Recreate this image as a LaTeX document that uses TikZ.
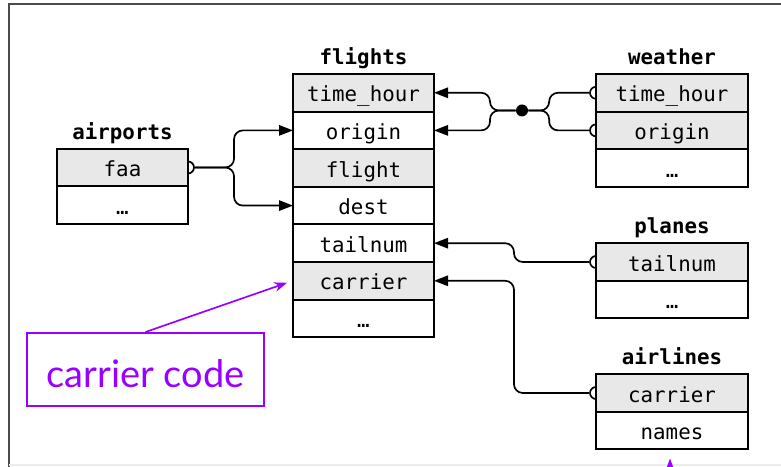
\documentclass[tikz,border=0pt]{standalone}
\usepackage{fontspec}
\setmonofont{DejaVu Sans Mono}
\setsansfont{Lato}
\usetikzlibrary{positioning, arrows.meta, backgrounds}
\definecolor{keygray}{HTML}{E8E8E8}
\definecolor{notepurple}{RGB}{153,0,255}
\definecolor{framegray}{RGB}{75,75,75}
\tikzset{
field/.style={draw, line width=1.4pt, outer sep=0pt, inner sep=0pt, minimum height=0.94cm, text height=16pt, text depth=3pt, font=\ttfamily\fontsize{14.8}{16}\selectfont}, % one column of a table
key/.style={field, fill=keygray}, % shaded key column
table/.style={inner sep=0pt, text height=11pt, text depth=3pt, font=\ttfamily\bfseries\fontsize{14.8}{16}\selectfont}, % table name on top
narrow/.style={minimum width=3.275cm},
mid/.style={minimum width=3.525cm},
wide/.style={minimum width=3.8cm},
link/.style={line width=1.2pt, rounded corners=0.22cm, -{Triangle[length=0.35cm, width=0.26cm]}}, % key -> key
ring/.style={circle, draw, line width=1.2pt, fill=white, inner sep=0pt, minimum size=0.3cm}, % open end of a link
dot/.style={circle, fill=black, inner sep=0pt, minimum size=0.3cm},
note/.style={draw=notepurple, line width=1.4pt, text=notepurple, minimum width=5.925cm, minimum height=1.825cm, text height=25.8pt, text depth=0pt, font=\sffamily\fontsize{27}{30}\selectfont},
notearrow/.style={draw=notepurple, line width=1.2pt, -{Stealth[length=0.32cm, width=0.24cm]}},
}

\begin{document}
\begin{tikzpicture}
    \useasboundingbox (0,0) rectangle (19.525,11.675);
    \clip (0,0) rectangle (19.525,11.675);
    % frame
    \draw[framegray, line width=1.4pt] (0.225,0) -- (0.225,11.575) -- (19.525,11.575);
    \draw[gray!15, line width=0.8pt] (0.225,0.05) -- (19.525,0.05);

    % flights
    \node[key, mid] (f-time) at (9.0875,9.355) {time\_hour};
    \node[field, mid, below=0pt of f-time] (f-origin) {origin};
    \node[key, mid, below=0pt of f-origin] (f-flight) {flight};
    \node[field, mid, below=0pt of f-flight] (f-dest) {dest};
    \node[field, mid, below=0pt of f-dest] (f-tail) {tailnum};
    \node[key, mid, below=0pt of f-tail] (f-car) {carrier};
    \node[field, mid, below=0pt of f-car] (f-rest) {…};
    \node[table, above=0.12cm of f-time] (flights) {flights};

    % weather
    \node[key, wide] (w-time) at (16.8,9.355) {time\_hour};
    \node[key, wide, below=0pt of w-time] (w-origin) {origin};
    \node[field, wide, below=0pt of w-origin] (w-rest) {…};
    \node[table, above=0.12cm of w-time] (weather) {weather};

    % airports
    \node[key, narrow] (a-faa) at (3.0625,7.4875) {faa};
    \node[field, narrow, below=0pt of a-faa] (a-rest) {…};
    \node[table, above=0.12cm of a-faa] (airports) {airports};

    % planes
    \node[key, wide] (p-tail) at (16.8,5.125) {tailnum};
    \node[field, wide, below=0pt of p-tail] (p-rest) {…};
    \node[table, above=0.12cm of p-tail] (planes) {planes};

    % airlines
    \node[key, wide] (l-car) at (16.8,1.85) {carrier};
    \node[field, wide, below=0pt of l-car] (l-names) {names};
    \node[table, above=0.12cm of l-car] (airlines) {airlines};

    \node[dot] (join) at (13.05,8.9125) {};

    \begin{pgfonlayer}{background}
        \node[ring] (r-faa) at (a-faa.east) {};
        \node[ring] (r-wtime) at (w-time.west) {};
        \node[ring] (r-worigin) at (w-origin.west) {};
        \node[ring] (r-ptail) at (p-tail.west) {};
        \node[ring] (r-lcar) at (l-car.west) {};

        % airports.faa -> origin, dest
        \draw[link] (r-faa.east) -- ++(0.98,0) |- (f-origin.west);
        \draw[link] (r-faa.east) -- ++(0.98,0) |- (f-dest.west);
        % weather keys meet at the dot
        \draw[line width=1.2pt, rounded corners=0.22cm] (r-wtime.west) -- ++(-1,0) |- (join);
        \draw[line width=1.2pt, rounded corners=0.22cm] (r-worigin.west) -- ++(-1,0) |- (join);
        \draw[link] (join) -- ++(-0.8,0) |- (f-time.east);
        \draw[link] (join) -- ++(-0.8,0) |- (f-origin.east);
        % planes, airlines
        \draw[link] (r-ptail.west) -- ++(-1.88,0) |- (f-tail.east);
        \draw[link] (r-lcar.west) -- ++(-1.88,0) |- (f-car.east);
    \end{pgfonlayer}

    % callout
    \node[note] (code) at (3.6375,2.4375) {carrier code};
    \coordinate (car-tip) at ([shift={(-0.15,-0.05)}]f-car.west);
    \draw[notearrow] (code.north) -- (car-tip);
    \coordinate (names-tip) at ([shift={(-0.05,-0.23)}]l-names.south);
    \coordinate (names-tail) at ([yshift=-2cm]names-tip);
    \draw[notearrow] (names-tail) -- (names-tip);
\end{tikzpicture}
\end{document}
